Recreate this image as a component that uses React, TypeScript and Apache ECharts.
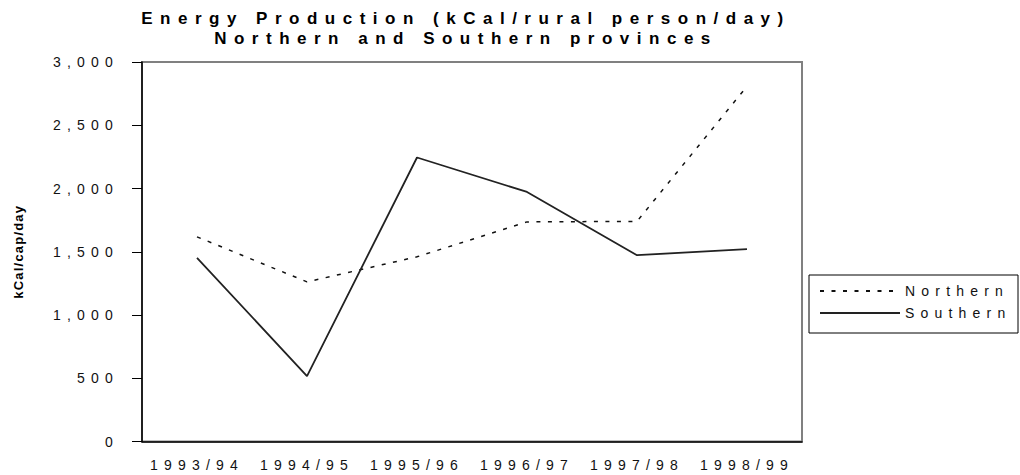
import React, { useEffect, useRef } from "react";
import * as echarts from "echarts";

const categories = ["1993/94", "1994/95", "1995/96", "1996/97", "1997/98", "1998/99"];
const northern = [1618, 1262, 1460, 1736, 1740, 2808];
const southern = [1452, 517, 2245, 1973, 1473, 1520];
const titleLines = ["Energy Production (kCal/rural person/day)", "Northern and Southern provinces"];
const yAxisName = "kCal/cap/day";
const seriesNames = ["Northern", "Southern"];

export default function App() {
  const ref = useRef<HTMLDivElement>(null);
  useEffect(() => {
    if (!ref.current) return;
    const chart = echarts.init(ref.current, undefined, { renderer: "svg" });
    const labelFont = "Liberation Sans";
    chart.setOption({
      animation: false,
      backgroundColor: "#ffffff",
      grid: {
        left: 142,
        top: 62,
        width: 660,
        height: 379.5,
        show: true,
        borderColor: "#808080",
        borderWidth: 2,
        backgroundColor: "#ffffff",
      },
      graphic: [
        {
          type: "text",
          x: 466,
          y: 18.5,
          style: {
            text: titleLines[0],
            font: `bold 17px "${labelFont}"`,
            textAlign: "center",
            textVerticalAlign: "middle",
            fill: "#000",
          },
        },
        {
          type: "text",
          x: 466,
          y: 38,
          style: {
            text: titleLines[1],
            font: `bold 17px "${labelFont}"`,
            textAlign: "center",
            textVerticalAlign: "middle",
            fill: "#000",
          },
        },
        {
          type: "rect",
          z: -1,
          shape: { x: 809, y: 275, width: 209, height: 58 },
          style: { fill: "#fff", stroke: "#000", lineWidth: 1 },
        },
      ],
      legend: {
        orient: "vertical",
        left: 819,
        top: 284,
        padding: 0,
        itemWidth: 80,
        itemHeight: 14,
        itemGap: 8,
        data: seriesNames,
        itemStyle: { color: "transparent", borderColor: "transparent", borderWidth: 0, opacity: 0 },
        textStyle: { fontFamily: labelFont, fontSize: 14, color: "#111" },
      },
      xAxis: {
        type: "category",
        data: categories,
        boundaryGap: true,
        axisLine: { lineStyle: { color: "#000", width: 1.5 } },
        axisTick: { length: 5, lineStyle: { color: "#000" } },
        axisLabel: { margin: 16, fontFamily: labelFont, fontSize: 14, color: "#111" },
      },
      yAxis: {
        type: "value",
        min: 0,
        max: 3000,
        interval: 500,
        name: yAxisName,
        nameLocation: "middle",
        nameGap: 117,
        nameTextStyle: { fontFamily: "Arial", fontWeight: "bold", fontSize: 13, color: "#000" },
        splitLine: { show: false },
        axisLine: { show: true, lineStyle: { color: "#000", width: 1.5 } },
        axisTick: { show: true, length: 10, lineStyle: { color: "#000" } },
        axisLabel: {
          margin: 23,
          fontFamily: labelFont,
          fontSize: 14,
          color: "#111",
          formatter: (v: number) => v.toLocaleString("en-US"),
        },
      },
      series: [
        {
          name: seriesNames[0],
          type: "line",
          data: northern,
          symbol: "none",
          lineStyle: { color: "#111", width: 1.5, type: [4, 7.5] },
          itemStyle: { color: "#111" },
        },
        {
          name: seriesNames[1],
          type: "line",
          data: southern,
          symbol: "none",
          lineStyle: { color: "#222", width: 1.8, type: "solid" },
          itemStyle: { color: "#222" },
        },
      ],
    });
    return () => chart.dispose();
  }, []);
  return (
    <>
      <style>{`#chartbox text { letter-spacing: 6.2px; }
#chartbox text[style*="bold"] { letter-spacing: 7.5px; }
#chartbox text[style*="Arial"] { letter-spacing: 1.2px; }`}</style>
      <div
        id="chartbox"
        ref={ref}
        style={{ position: "absolute", left: 0, top: 0, width: 1020, height: 475, background: "#fff" }}
      />
    </>
  );
}
